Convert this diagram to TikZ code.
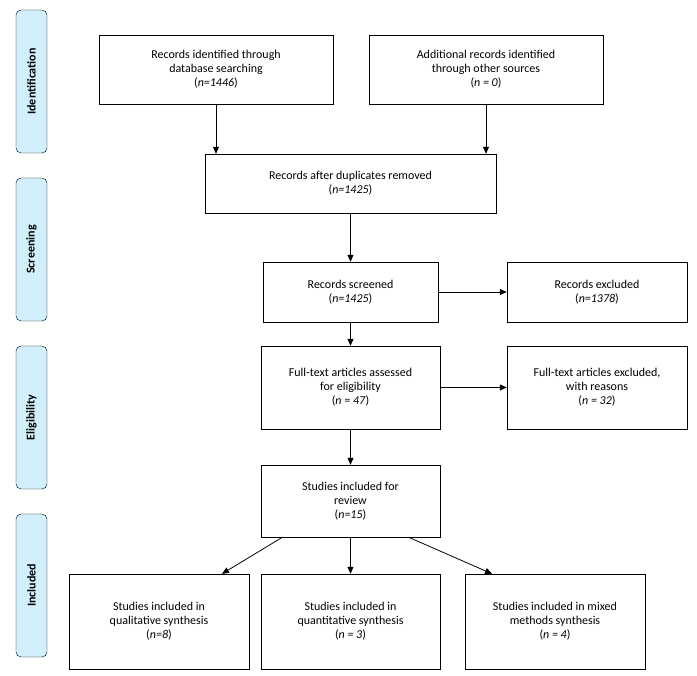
\documentclass[tikz,border=0pt]{standalone}
\usepackage{fontspec}
\setmainfont{Carlito}
\usetikzlibrary{arrows.meta, positioning}
\begin{document}
\begin{tikzpicture}[x=1pt,y=-1pt]
    \tikzstyle{every node} = [font=\fontsize{12}{14}\selectfont]
    \tikzstyle{block} = [draw, rectangle, align=center, inner sep=2pt]
    \tikzstyle{phase} = [draw, rectangle, fill=cyan!18, rounded corners=5pt, minimum width=143pt, minimum height=31pt, rotate=90, font=\fontsize{12}{14}\selectfont\bfseries]
    \tikzstyle{link} = [-{Triangle[length=7pt,width=6pt]}, thick]
    \useasboundingbox (0,0) rectangle (697,676);
    % phases
    \node[phase] (ident) at (31.5,81.5) {Identification};
    \node[phase] (screen) at (31.5,249.5) {Screening};
    \node[phase] (elig) at (31.5,417.5) {Eligibility};
    \node[phase] (incl) at (31.5,585.5) {Included};
    % place nodes
    \node[block, minimum width=234pt, minimum height=69pt] (db) at (216,69.5) {Records identified through\\database searching\\(\textit{n=1446})};
    \node[block, minimum width=234pt, minimum height=69pt] (other) at (486,69.5) {Additional records identified\\through other sources\\(\textit{n = 0})};
    \node[block, minimum width=291pt, minimum height=59pt] (dup) at (350.5,183.5) {Records after duplicates removed\\(\textit{n=1425})};
    \node[block, minimum width=175pt, minimum height=60pt] (scr) at (350.5,292) {Records screened\\(\textit{n=1425})};
    \node[block, minimum width=180pt, minimum height=60pt] (exc) at (597,292) {Records excluded\\(\textit{n=1378})};
    \node[block, minimum width=179pt, minimum height=83pt] (full) at (350.5,387.5) {Full-text articles assessed\\for eligibility\\(\textit{n = 47})};
    \node[block, minimum width=180pt, minimum height=83pt] (fexc) at (597,387.5) {Full-text articles excluded,\\with reasons\\(\textit{n = 32})};
    \node[block, minimum width=179pt, minimum height=72pt] (rev) at (350.5,501) {Studies included for\\review\\(\textit{n=15})};
    \node[block, minimum width=180pt, minimum height=95pt] (qual) at (159,621.5) {Studies included in\\qualitative synthesis\\(\textit{n=8})};
    \node[block, minimum width=179pt, minimum height=95pt] (quan) at (350.5,621.5) {Studies included in\\quantitative synthesis\\(\textit{n = 3})};
    \node[block, minimum width=180pt, minimum height=95pt] (mix) at (555,621.5) {Studies included in mixed\\methods synthesis\\(\textit{n = 4})};

    % Connections
    \draw[link] (db.south) -- (db.south |- dup.north);
    \draw[link] (other.south) -- (other.south |- dup.north);
    \draw[link] (dup) -- (scr);
    \draw[link] (scr) -- (exc);
    \draw[link] (scr) -- (full);
    \draw[link] (full) -- (fexc);
    \draw[link] (full) -- (rev);
    \draw[link] ([xshift=-68pt]rev.south) -- ([xshift=63pt]qual.north);
    \draw[link] (rev) -- (quan);
    \draw[link] ([xshift=58pt]rev.south) -- ([xshift=-63pt]mix.north);
\end{tikzpicture}
\end{document}
